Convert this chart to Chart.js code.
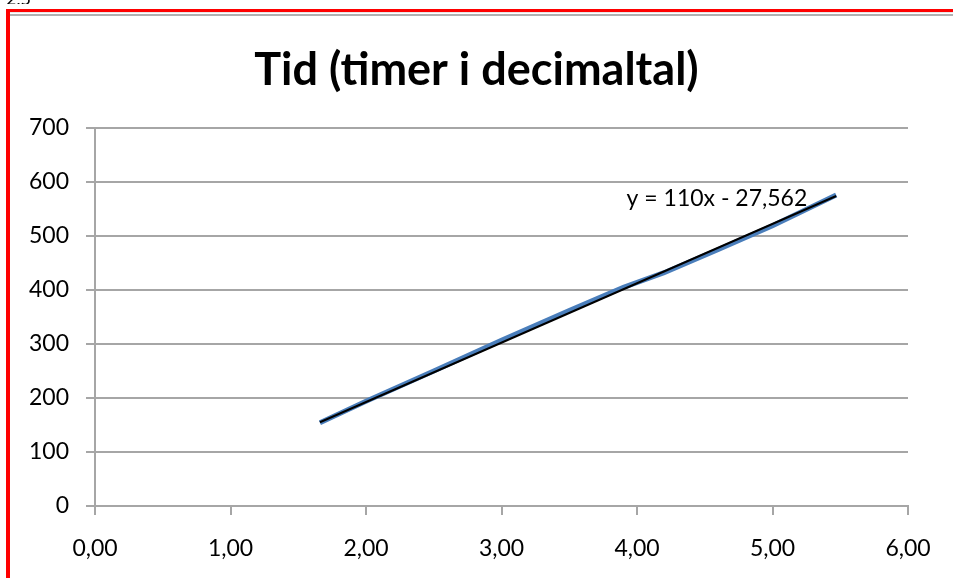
<!DOCTYPE html>
<html>
<head>
<meta charset="utf-8">
<title>Tid (timer i decimaltal)</title>
<script src="https://cdn.jsdelivr.net/npm/chart.js@4.4.0/dist/chart.umd.min.js"></script>
<style>
  html, body { margin: 0; background: #fff; overflow: hidden; }
  #wrap { position: relative; width: 953px; height: 578px; overflow: hidden; background: #fff; }
  #chart { position: absolute; left: 0; top: 0; }
  /* celle-tekst fra regnearket bag grafen, næsten skjult */
  #celle { position: absolute; left: 6px; top: 0; height: 4px; overflow: hidden; }
  #celle span { display: block; margin-top: -13px; font: 18px Lato, sans-serif; color: #000; }
  /* markering af grafen (rød ramme) */
  #ramme { position: absolute; left: 6px; top: 9px; width: 960px; height: 600px;
           border-left: 4px solid #ff0000; border-top: 3px solid #ff0000; }
  #kant { position: absolute; left: 10px; top: 12px; width: 960px; height: 1px;
          border-top: 1px solid #e8e8e8; border-bottom: 2px solid #b0b0b0; }
</style>
</head>
<body>
<div id="wrap">
  <canvas id="chart" width="953" height="578"></canvas>
  <div id="celle"><span>2,5</span></div>
  <div id="kant"></div>
  <div id="ramme"></div>
</div>
<script>
// Data
var timer = [1.66, 2.0, 2.5, 3.0, 3.5, 3.9, 4.2, 4.6, 5.0, 5.47];
var vaerdier = [154, 194, 250, 307, 362, 405, 432, 475, 519, 576];

// Tendenslinje (lineær) som vist i grafen
var haeldning = 110;
var skaering = -27.562;
var ligningTekst = 'y = 110x - 27,562';
var ligningPos = { x: 4.59, y: 570 };

var xMin = 0, xMax = 6, xStep = 1;
var yMin = 0, yMax = 700, yStep = 100;

var tekstFont = 'Lato, "Open Sans", sans-serif';
var gitterFarve = '#a6a6a6';

var serie = timer.map(function (t, i) { return { x: t, y: vaerdier[i] }; });
var foerste = timer[0], sidste = timer[timer.length - 1];
var tendens = [
  { x: foerste, y: haeldning * foerste + skaering },
  { x: sidste, y: haeldning * sidste + skaering }
];

// Skriver ligningen for tendenslinjen + centrerer titlen over hele grafen
var ligningPlugin = {
  id: 'ligning',
  afterLayout: function (chart) {
    var t = chart.titleBlock;
    if (t) { t.left = 0; t.right = chart.width; t.width = chart.width; }
  },
  afterDatasetsDraw: function (chart) {
    var ctx = chart.ctx;
    var px = chart.scales.x.getPixelForValue(ligningPos.x);
    var py = chart.scales.y.getPixelForValue(ligningPos.y);
    ctx.save();
    ctx.font = '23px ' + tekstFont;
    ctx.fillStyle = '#000';
    ctx.textAlign = 'center';
    ctx.textBaseline = 'middle';
    ctx.fillText(ligningTekst, px, py);
    ctx.restore();
  }
};

new Chart(document.getElementById('chart'), {
  type: 'scatter',
  data: {
    datasets: [{
      label: 'Lineær (Tid)',
      data: tendens,
      showLine: true,
      borderColor: '#000000',
      borderWidth: 2,
      pointRadius: 0,
      order: 0
    }, {
      label: 'Tid',
      data: serie,
      showLine: true,
      borderColor: '#4a7ebb',
      borderWidth: 5,
      pointRadius: 0,
      tension: 0,
      order: 1
    }]
  },
  options: {
    responsive: false,
    animation: false,
    layout: {
      padding: { left: 0, right: 45, top: 0, bottom: 0 }
    },
    scales: {
      x: {
        type: 'linear',
        min: xMin,
        max: xMax,
        afterFit: function (s) { s.height = 72; },
        ticks: {
          stepSize: xStep,
          padding: 20,
          color: '#000',
          font: { family: tekstFont, size: 23 },
          callback: function (v) { return v.toFixed(2).replace('.', ','); }
        },
        grid: {
          drawOnChartArea: false,
          drawTicks: true,
          tickLength: 9,
          color: gitterFarve,
          lineWidth: 2
        },
        border: { display: true, color: gitterFarve, width: 2 }
      },
      y: {
        min: yMin,
        max: yMax,
        afterFit: function (s) { s.width = 95; },
        ticks: {
          stepSize: yStep,
          padding: 17,
          color: '#000',
          font: { family: tekstFont, size: 23 }
        },
        grid: {
          tickLength: 9,
          color: gitterFarve,
          lineWidth: 2
        },
        border: { display: true, color: gitterFarve, width: 2 }
      }
    },
    plugins: {
      legend: { display: false },
      tooltip: { enabled: false },
      title: {
        display: true,
        text: 'Tid (timer i decimaltal)',
        color: '#000',
        font: { family: tekstFont, size: 45, weight: 'bold', lineHeight: 1.2 },
        padding: { top: 43, bottom: 31 }
      }
    }
  },
  plugins: [ligningPlugin]
});
</script>
</body>
</html>
